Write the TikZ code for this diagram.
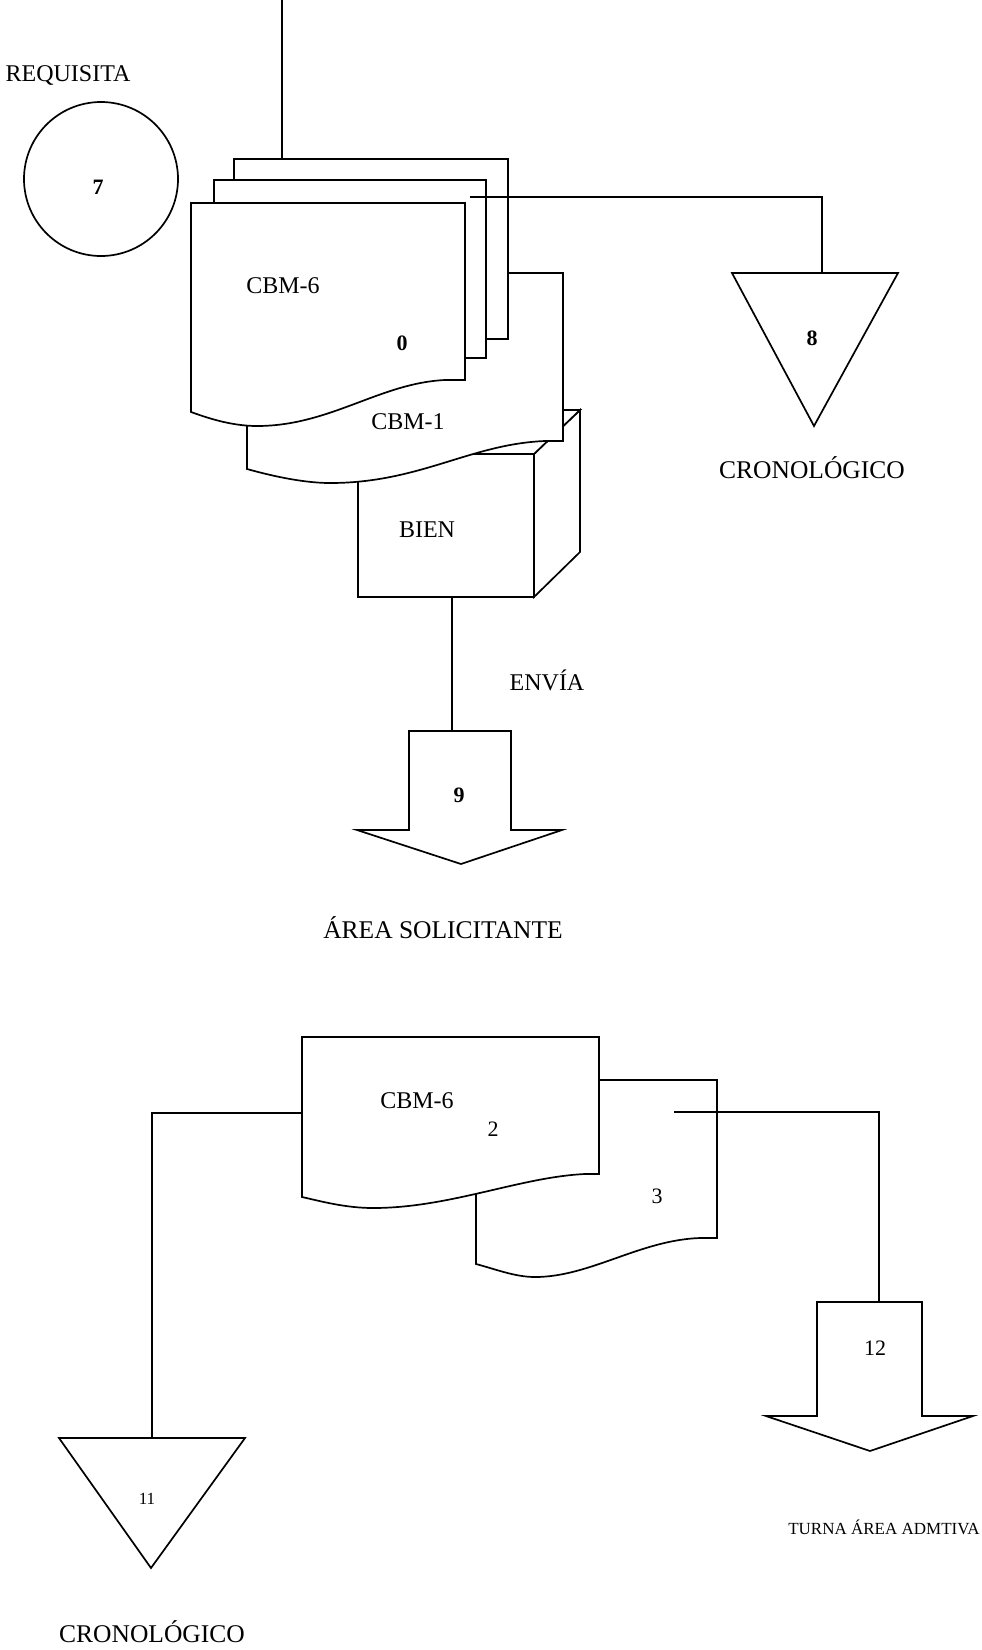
\documentclass[tikz,border=0pt]{standalone}
\usepackage{fontspec}
\setmainfont{Liberation Serif}
\begin{document}
\begin{tikzpicture}[x=1pt,y=-1pt,
  shp/.style={draw=black, fill=white, line width=1.7pt, line join=miter},
  wire/.style={draw=black, line width=1.6pt},
  lbl/.style={font=\fontsize{24}{28}\selectfont, inner sep=0pt, anchor=base},
  biglbl/.style={font=\fontsize{25.5}{30}\selectfont, inner sep=0pt, anchor=base},
  num/.style={font=\fontsize{22}{26}\selectfont\bfseries, inner sep=0pt, anchor=base},
  numr/.style={font=\fontsize{22}{26}\selectfont, inner sep=0pt, anchor=base},
  small/.style={font=\fontsize{17}{20}\selectfont, inner sep=0pt, anchor=base}]
\useasboundingbox (0,0) rectangle (982,1650);

% ---------- upper group ----------
% incoming line
\coordinate (inflow) at (282,0);
\coordinate (stacktop) at (282,159);

% requisition circle
\node[shp, circle, minimum size=154pt, inner sep=0pt] (req) at (101,179) {};
\node[num] (req7) at (98,194) {7};
\node[lbl] (reqlbl) at (68,81) {REQUISITA};

% the good (cube), behind the CBM-1 form
\draw[shp] (534,454) -- (580,410) -- (580,552) -- (534,597) -- cycle;
\draw[shp] (358,454) -- (404,410) -- (580,410) -- (534,454) -- cycle;
\draw[shp] (358,454) rectangle (534,597);
\coordinate (cubebot) at (452,597);

% CBM-1 form
\draw[shp] (247,273) -- (563,273) -- (563,441) -- (545,441)
  .. controls (470,444) and (420,483) .. (330,483)
  .. controls (300,483) and (265,474) .. (247,469) -- cycle;

% stack of copies
\draw[shp] (234,159) rectangle (508,339);
\draw[shp] (214,180) rectangle (486,358);
\draw[shp] (191,203) -- (465,203) -- (465,380) -- (445,380)
  .. controls (380,383) and (330,426) .. (257,426)
  .. controls (230,426) and (205,417) .. (191,412) -- cycle;

\draw[wire] (inflow) -- (stacktop);

\node[lbl] (cbm6a) at (283,293) {CBM-6};
\node[num] (zero) at (402,350) {0};
\node[lbl] (cbm1) at (408,429) {CBM-1};
\node[lbl] (bien) at (427,537) {BIEN};

% file 8
\coordinate (c8s) at (470,197);
\coordinate (t8top) at (822,273);
\draw[shp] (732,273) -- (898,273) -- (814,426) -- cycle;
\draw[wire] (c8s) -| (t8top);
\node[num] (eight) at (812,345) {8};
\node[biglbl] (cron1) at (812,478) {CRONOLÓGICO};

% send arrow 9
\coordinate (a9top) at (452,731);
\draw[wire] (cubebot) -- (a9top);
\draw[shp] (409,731) -- (511,731) -- (511,830) -- (562,830) -- (461,864)
  -- (357,830) -- (409,830) -- cycle;
\node[lbl] (envia) at (547,690) {ENVÍA};
\node[num] (nine) at (459,802) {9};
\node[biglbl] (area) at (443,938) {ÁREA SOLICITANTE};

% ---------- lower group ----------
% copy 3 (behind)
\draw[shp] (476,1080) -- (717,1080) -- (717,1238) -- (700,1238)
  .. controls (640,1240) and (590,1277) .. (535,1277)
  .. controls (515,1277) and (495,1269) .. (476,1264) -- cycle;
% copy 2
\draw[shp] (302,1037) -- (599,1037) -- (599,1174) -- (585,1174)
  .. controls (520,1177) and (450,1208) .. (373,1208)
  .. controls (345,1208) and (320,1201) .. (302,1197) -- cycle;

\node[lbl] (cbm6b) at (417,1108) {CBM-6};
\node[numr] (two) at (493,1136) {2};
\node[numr] (three) at (657,1203) {3};

% file 11
\coordinate (d2left) at (302,1113);
\coordinate (t11top) at (152,1438);
\draw[wire] (d2left) -| (t11top);
\draw[shp] (59,1438) -- (245,1438) -- (151,1568) -- cycle;
\node[small] (eleven) at (147,1504) {11};
\node[biglbl] (cron2) at (152,1642) {CRONOLÓGICO};

% turn arrow 12
\coordinate (c12s) at (674,1112);
\coordinate (a12top) at (879,1302);
\draw[wire] (c12s) -| (a12top);
\draw[shp] (817,1302) -- (922,1302) -- (922,1416) -- (973,1416) -- (870,1451)
  -- (766,1416) -- (817,1416) -- cycle;
\node[numr] (twelve) at (875,1355) {12};
\node[small] (turna) at (884,1534) {TURNA ÁREA ADMTIVA};
\end{tikzpicture}
\end{document}
